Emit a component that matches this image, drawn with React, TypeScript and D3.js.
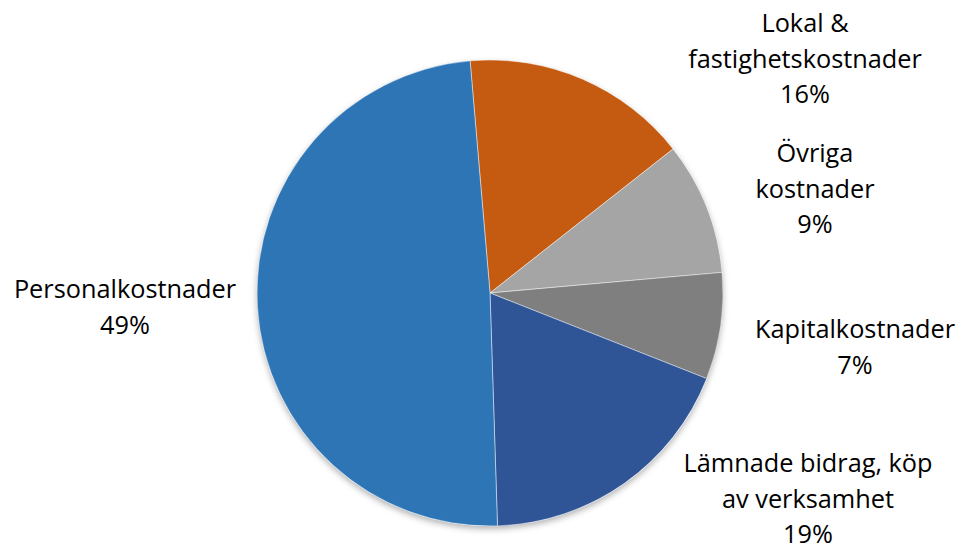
import React from "react";
import * as d3 from "d3";

const categories = [
  "Lokal & fastighetskostnader",
  "Övriga kostnader",
  "Kapitalkostnader",
  "Lämnade bidrag, köp av verksamhet",
  "Personalkostnader",
];
const values = [15.75, 9.2, 7.4, 18.5, 49.15];
const labelLines = [
  ["Lokal &", "fastighetskostnader"],
  ["Övriga", "kostnader"],
  ["Kapitalkostnader"],
  ["Lämnade bidrag, köp", "av verksamhet"],
  ["Personalkostnader"],
];
const colors = ["#C55A11", "#A5A5A5", "#7F7F7F", "#2F5597", "#2E75B6"];

// label layout (center x, first baseline y)
const labelPos = [
  [805, 32],
  [815, 162],
  [855, 338],
  [808, 472],
  [125, 298],
];

const W = 962;
const H = 552;
const cx = 490;
const cy = 293;
const R = 233;
const startDeg = -4.9;
const lineH = 35.5;

export default function App() {
  const start = (startDeg * Math.PI) / 180;
  const pie = d3
    .pie<number>()
    .sort(null)
    .value((d) => d)
    .startAngle(start)
    .endAngle(start + 2 * Math.PI);
  const arcs = pie(values);
  const arc = d3.arc<d3.PieArcDatum<number>>().innerRadius(0).outerRadius(R);
  const total = d3.sum(values);

  return (
    <div style={{ position: "absolute", left: 0, top: 0 }}>
      <svg width={W} height={H} style={{ display: "block", background: "#fff" }}>
        <defs>
          <filter id="sh" x="-20%" y="-20%" width="140%" height="140%">
            <feDropShadow dx="0" dy="3" stdDeviation="3" floodColor="#000" floodOpacity="0.3" />
          </filter>
        </defs>
        <g transform={`translate(${cx},${cy})`}>
          <circle r={R} fill="#fff" filter="url(#sh)" />
          {arcs.map((a, i) => (
            <path
              key={categories[i]}
              d={arc(a) || ""}
              fill={colors[i]}
              stroke="#fff"
              strokeWidth={0.75}
              strokeOpacity={0.6}
            />
          ))}
        </g>
        <g
          fontFamily="'Open Sans', Lato, sans-serif"
          fontSize={25.3}
          fill="#000"
          textAnchor="middle"
        >
          {labelLines.map((lines, i) => {
            const all = [...lines, `${Math.round((values[i] / total) * 100)}%`];
            return (
              <text key={categories[i]} x={labelPos[i][0]} y={labelPos[i][1]}>
                {all.map((t, j) => (
                  <tspan key={j} x={labelPos[i][0]} y={labelPos[i][1] + j * lineH}>
                    {t}
                  </tspan>
                ))}
              </text>
            );
          })}
        </g>
      </svg>
    </div>
  );
}
